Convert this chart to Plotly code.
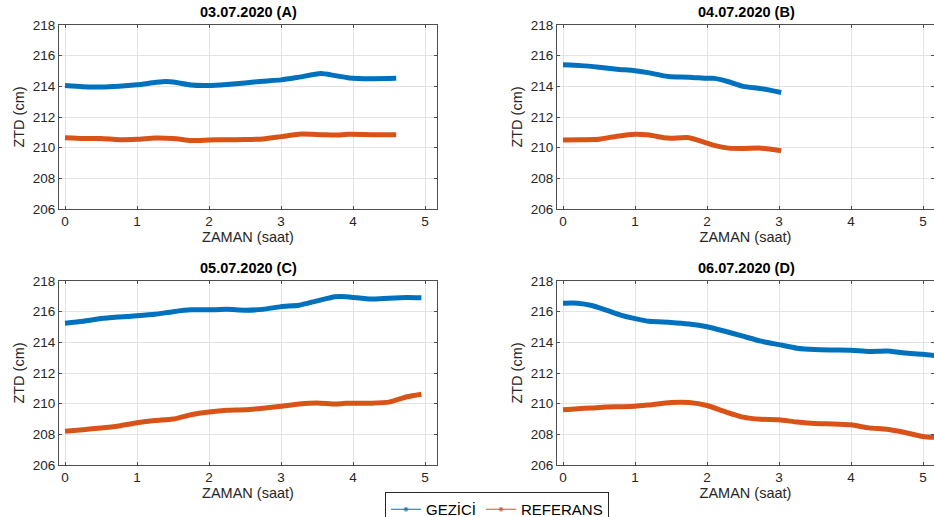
import plotly.graph_objects as go

# ---------------- data ----------------
t_A = [0, 0.25, 0.5, 0.75, 1.0, 1.25, 1.4, 1.55, 1.75, 2.0, 2.25, 2.5, 2.75, 3.0, 3.25, 3.55, 3.75, 3.95, 4.25, 4.6]
gez_A = [214.05, 213.98, 213.95, 214.0, 214.1, 214.25, 214.32, 214.25, 214.08, 214.05, 214.12, 214.22, 214.33, 214.42, 214.6, 214.83, 214.7, 214.55, 214.5, 214.52]
ref_A = [210.65, 210.6, 210.6, 210.52, 210.55, 210.63, 210.62, 210.58, 210.47, 210.5, 210.52, 210.53, 210.57, 210.72, 210.88, 210.85, 210.82, 210.87, 210.85, 210.85]

t_B = [0, 0.25, 0.5, 0.75, 1.0, 1.2, 1.4, 1.5, 1.75, 2.0, 2.1, 2.3, 2.5, 2.75, 3.03]
gez_B = [215.4, 215.35, 215.25, 215.12, 215.02, 214.88, 214.68, 214.62, 214.6, 214.52, 214.52, 214.3, 214.0, 213.85, 213.6]
ref_B = [210.5, 210.52, 210.55, 210.75, 210.88, 210.82, 210.65, 210.62, 210.65, 210.3, 210.15, 209.97, 209.95, 209.97, 209.8]

t_C = [0, 0.25, 0.5, 0.75, 1.0, 1.25, 1.5, 1.75, 2.0, 2.25, 2.5, 2.75, 3.0, 3.25, 3.5, 3.75, 3.9, 4.25, 4.5, 4.75, 4.95]
gez_C = [215.25, 215.37, 215.55, 215.65, 215.73, 215.83, 216.0, 216.12, 216.12, 216.15, 216.1, 216.15, 216.33, 216.42, 216.7, 216.97, 216.98, 216.82, 216.88, 216.92, 216.9]
ref_C = [208.2, 208.3, 208.42, 208.55, 208.75, 208.9, 209.0, 209.28, 209.46, 209.57, 209.6, 209.7, 209.83, 209.98, 210.05, 209.98, 210.02, 210.03, 210.1, 210.45, 210.62]

t_D = [0, 0.2, 0.4, 0.6, 0.8, 1.0, 1.2, 1.5, 1.75, 2.0, 2.25, 2.5, 2.75, 3.0, 3.25, 3.5, 3.75, 4.0, 4.25, 4.5, 4.75, 5.0, 5.25]
gez_D = [216.55, 216.55, 216.4, 216.1, 215.78, 215.55, 215.37, 215.3, 215.2, 215.02, 214.72, 214.4, 214.08, 213.85, 213.62, 213.53, 213.5, 213.48, 213.4, 213.43, 213.3, 213.22, 213.1]
ref_D = [209.6, 209.67, 209.72, 209.78, 209.8, 209.83, 209.92, 210.07, 210.07, 209.88, 209.48, 209.12, 208.98, 208.95, 208.8, 208.7, 208.68, 208.62, 208.42, 208.33, 208.12, 207.86, 207.78]

titles = ["03.07.2020 (A)", "04.07.2020 (B)", "05.07.2020 (C)", "06.07.2020 (D)"]
series_names = ["GEZİCİ", "REFERANS"]
x_ticks = [0, 1, 2, 3, 4, 5]
y_ticks = [206, 208, 210, 212, 214, 216, 218]

BLUE = "#0072BD"
ORANGE = "#D95319"
FONT = "Liberation Sans, Arial, sans-serif"
W, H = 934, 517

panels = [(t_A, gez_A, ref_A), (t_B, gez_B, ref_B), (t_C, gez_C, ref_C), (t_D, gez_D, ref_D)]

# pixel boxes (left, right, top, bottom)
boxes = [(59, 437, 25, 209), (557, 935, 25, 209), (59, 437, 281, 465), (557, 935, 281, 465)]
zero_px = [65, 563, 65, 563]
px_per_unit = 72.0

fig = go.Figure()
layout = dict(
    width=W, height=H,
    margin=dict(l=0, r=0, t=0, b=0, autoexpand=False),
    paper_bgcolor="white", plot_bgcolor="white",
    font=dict(family=FONT, color="#262626", size=13),
    showlegend=True,
)
annotations = []
for i, ((t, g, r), (l, rr, tp, bt)) in enumerate(zip(panels, boxes)):
    n = "" if i == 0 else str(i + 1)
    xa, ya = "x" + n, "y" + n
    for vals, col in ((g, BLUE), (r, ORANGE)):
        fig.add_trace(go.Scatter(x=t, y=vals, mode="lines", xaxis=xa, yaxis=ya,
                                 line=dict(color=col, width=5, shape="spline", smoothing=0.6),
                                 showlegend=False, hoverinfo="skip", cliponaxis=True))
    x0 = (l - zero_px[i]) / px_per_unit
    x1 = (min(rr, W) - zero_px[i]) / px_per_unit
    common = dict(showline=True, linecolor="#4d4d4d", linewidth=1, mirror="allticks",
                  ticks="inside", ticklen=3, tickcolor="#4d4d4d", automargin=False,
                  showgrid=True, gridcolor="#e3e3e3", gridwidth=1, zeroline=False,
                  tickfont=dict(family=FONT, size=13.5, color="#262626"))
    layout["xaxis" + n] = dict(domain=[l / W, min(rr, W) / W], range=[x0, x1], anchor=ya,
                               tickvals=x_ticks,
                               title=dict(text="ZAMAN (saat)", font=dict(family=FONT, size=14.5, color="#262626"), standoff=3),
                               **common)
    layout["yaxis" + n] = dict(domain=[(H - bt) / H, (H - tp) / H], range=[206, 218], anchor=xa,
                               tickvals=y_ticks,
                               title=dict(text="ZTD (cm)", font=dict(family=FONT, size=14.5, color="#262626"), standoff=4),
                               **common)
    annotations.append(dict(text="<b>" + titles[i] + "</b>", x=(l + rr) / 2 / W, y=(H - tp + 3) / H,
                            xref="paper", yref="paper", xanchor="center", yanchor="bottom",
                            showarrow=False, font=dict(family=FONT, size=14.5, color="#000000")))

# legend-only traces
for name, col in zip(series_names, (BLUE, ORANGE)):
    fig.add_trace(go.Scatter(x=[None], y=[None], mode="lines+markers", name=name,
                             line=dict(color=col, width=1), marker=dict(color=col, size=4, symbol="asterisk-open")))

layout["annotations"] = annotations
layout["legend"] = dict(orientation="h", x=497 / W, xanchor="center", y=(H - 492) / H, yanchor="top",
                        bordercolor="#262626", borderwidth=1, bgcolor="white",
                        font=dict(family=FONT, size=15, color="#000000"),
                        itemwidth=30, tracegroupgap=0, entrywidth=0)
fig.update_layout(**layout)
fig.write_html("out.html", config={"displayModeBar": False},
               post_script="document.body.style.margin='0';document.body.style.overflow='hidden';")
